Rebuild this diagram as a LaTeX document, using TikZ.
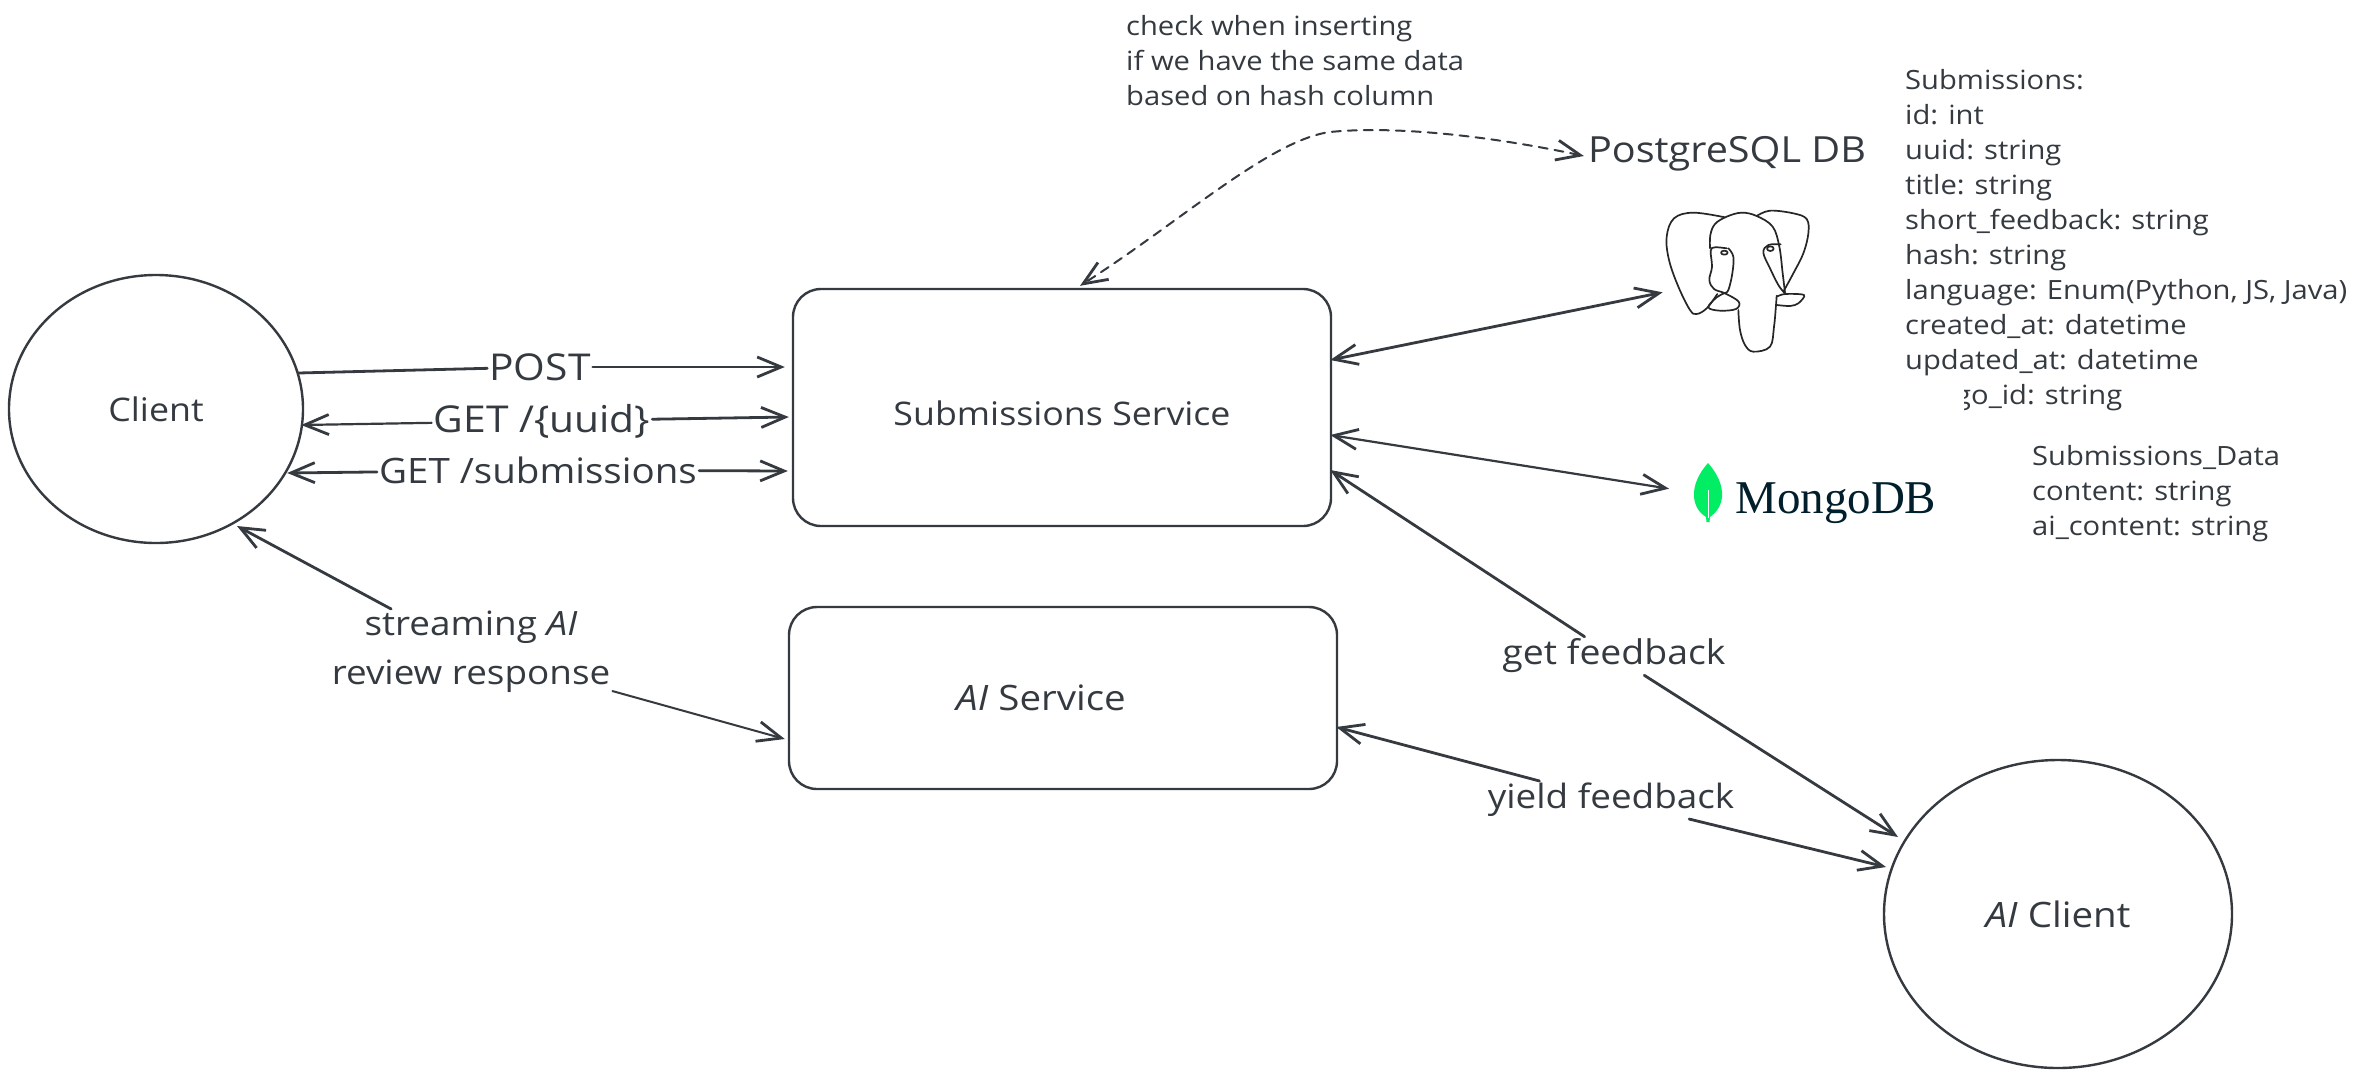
\documentclass[tikz,border=0pt]{standalone}
\usepackage{fontspec}
\setmainfont[FakeStretch=1.1]{Open Sans}
\newfontfamily\mongofont{Liberation Serif}
\usetikzlibrary{shapes.geometric,arrows.meta,calc}
\definecolor{ink}{HTML}{343A40}
\definecolor{leaf}{HTML}{00ED64}
\definecolor{mongoink}{HTML}{001E2B}
\newcommand{\fsz}[1]{\fontsize{#1}{49}\selectfont}
\tikzset{
  hd/.tip={Straight Barb[length=24pt,width=20pt,line width=2.8pt]},
  conn/.style={draw=ink,line width=2.8pt,line cap=round,line join=round},
  boxshape/.style={draw=ink,line width=2.4pt,rounded corners=28pt,inner sep=0pt,text=ink},
  roundshape/.style={ellipse,draw=ink,line width=2.4pt,inner sep=0pt,text=ink},
  biglabel/.style={text=ink,inner sep=2pt,align=center},
  note/.style={text=ink,inner sep=0pt,anchor=north west,align=left,font=\fontsize{26.5}{35}\selectfont},
  elephantline/.style={draw=black!85,line width=1.7pt,line join=round,line cap=round},
}
\begin{document}
\begin{tikzpicture}[x=1pt,y=-1pt]
\useasboundingbox (0,0) rectangle (2369,1080);
\fill[white] (0,0) rectangle (2369,1080);

% main shapes
\node[roundshape,minimum width=294pt,minimum height=268pt,font=\fsz{32.5}] (client) at (156,409) {Client};
\node[boxshape,minimum width=538pt,minimum height=237pt,font=\fsz{32.5}] (subs) at (1062,407.5) {\rule{0pt}{36pt}Submissions Service};
\node[boxshape,minimum width=548pt,minimum height=182pt,font=\fsz{35}] (aisvc) at (1063,698) {\textit{AI} Service\hspace*{44pt}};
\node[roundshape,minimum width=348pt,minimum height=308pt,font=\fsz{35}] (aiclient) at (2058,914) {\textit{AI} Client};

% labels
\node[biglabel,font=\fsz{37}] (lpost) at (540,367) {POST};
\node[biglabel,font=\fsz{37}] (luuid) at (542,421) {GET /\{uuid\}};
\node[biglabel,font=\fsz{35}] (lsubs) at (538,470) {GET /submissions};
\node[biglabel,font=\fsz{33.5}] (lstream) at (471,652) {streaming \textit{AI}\\review response};
\node[biglabel,font=\fsz{34}] (lget) at (1614,656) {get feedback};
\node[biglabel,font=\fsz{33.5}] (lyield) at (1611,800) {yield feedback};
\node[text=ink,inner sep=0pt,font=\fsz{36}] (pg) at (1727,154) {PostgreSQL DB};

% notes
\node[note] (notecheck) at (1126,15) {check when inserting\\if we have the same data\\based on hash column};
\node[note] (notesub) at (1905,69) {Submissions:\\id: int\\uuid: string\\title: string\\short\_feedback: string\\hash: string\\language: Enum(Python, JS, Java)\\created\_at: datetime\\updated\_at: datetime};
\node[note] (notego) at (1955,384) {go\_id: string};
\fill[white] (1948,381) rectangle (1964,420);
\node[note] (notedata) at (2032,445) {Submissions\_Data\\content: string\\ai\_content: string};

% MongoDB logo
\node[anchor=base west,inner sep=0pt,text=mongoink,font=\mongofont\fontsize{47}{50}\selectfont] (mongo) at (1735,513) {MongoDB};
\fill[leaf] (1708,463) .. controls (1716,472) and (1723,484) .. (1722,497) .. controls (1721,508) and (1714,514) .. (1710,517) -- (1709.5,522) -- (1706.5,522) -- (1706,517) .. controls (1701,514) and (1695,508) .. (1694,497) .. controls (1693,484) and (1700,472) .. cycle;
\draw[white,line width=.8pt] (1708,490) -- (1708,518);

% PostgreSQL elephant (reference-crop coordinates, scaled)
\begin{scope}[shift={(1550,120)},scale=1/3]
  \coordinate (elephant) at (338,517);
  \draw[elephantline] plot[smooth,tension=.6] coordinates {(525,292) (430,278) (372,295) (350,350) (357,420) (385,500) (420,570) (440,582) (470,565) (502,522)};
  \draw[elephantline] plot[smooth,tension=.6] coordinates {(480,385) (481,345) (495,312) (530,290) (575,278) (620,288) (668,320) (688,380) (698,460) (705,518)};
  \draw[elephantline] plot[smooth,tension=.6] coordinates {(620,288) (660,272) (730,280) (770,297) (775,340) (760,400) (730,460) (700,515)};
  \draw[elephantline] plot[smooth,tension=.6] coordinates {(530,385) (495,382) (482,392) (486,440) (478,480) (492,507) (525,520) (566,545) (558,567) (510,572) (475,562) (500,532) (522,520) (535,510) (547,460) (550,410) (535,385)};
  \draw[elephantline] plot[smooth,tension=.6] coordinates {(565,570) (570,630) (585,675) (610,695) (660,680) (672,620) (678,555) (680,527)};
  \draw[elephantline] plot[smooth,tension=.5] coordinates {(680,530) (705,522) (762,525) (745,550) (720,558) (680,555)};
  \draw[elephantline] plot[smooth,tension=.6] coordinates {(692,373) (655,375) (640,398) (660,445) (685,495) (703,518)};
  \draw[elephantline] (523,398) ellipse (10pt and 6pt);
  \draw[elephantline] (661,386) ellipse (10pt and 7pt);
\end{scope}

% connectors
\draw[conn] ([xshift=-6pt,yshift=36pt]client.east) -- (lpost);
\draw[conn,-hd] (lpost) -- ([xshift=-7pt,yshift=40.5pt]subs.west);
\draw[conn,line width=2.2pt,hd-] ([xshift=-3pt,yshift=-16pt]client.east) -- (luuid);
\draw[conn,-hd] (luuid) -- ([xshift=-3pt,yshift=-9.5pt]subs.west);
\draw[conn,hd-] ([xshift=-17pt,yshift=-64pt]client.east) -- (lsubs);
\draw[conn,-hd] (lsubs) -- ([xshift=-4pt,yshift=-63.5pt]subs.west);
\draw[conn,hd-] ([xshift=81pt,yshift=-117pt]client.center) -- (lstream);
\draw[conn,line width=2pt,-hd] (lstream) -- ([xshift=-3pt,yshift=-41pt]aisvc.west);
\draw[conn,hd-hd] ([xshift=-2pt,yshift=47.5pt]subs.east) -- (elephant);
\draw[conn,line width=2.2pt,hd-hd] ([xshift=-2pt,yshift=-27.5pt]subs.east) -- ([xshift=-66pt,yshift=14pt]mongo.west);
\draw[conn,hd-] ([xshift=-2pt,yshift=-62.5pt]subs.east) -- (lget);
\draw[conn,-hd] (lget) -- ([xshift=-160pt,yshift=77pt]aiclient.center);
\draw[conn,hd-] ([xshift=-2pt,yshift=-29pt]aisvc.east) -- (lyield);
\draw[conn,-hd] (lyield) -- ([xshift=-172pt,yshift=47pt]aiclient.center);
\draw[conn,line width=2pt,dashed,dash pattern=on 9pt off 7pt,hd-hd] ([xshift=-4pt,yshift=-2pt]pg.west) .. controls (1500,138) and (1400,125) .. (1330,132) .. controls (1270,140) and (1180,222) .. ([xshift=18pt,yshift=2pt]subs.north);
\end{tikzpicture}
\end{document}
